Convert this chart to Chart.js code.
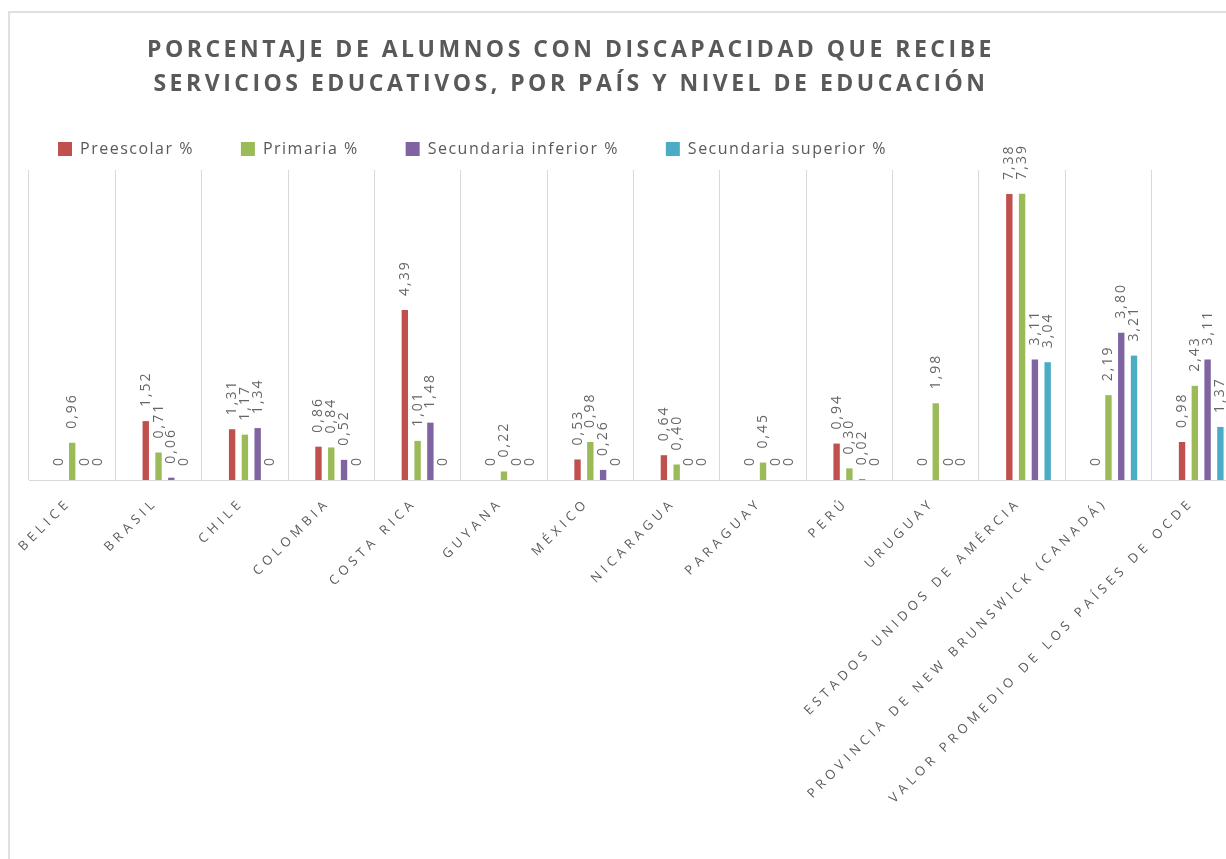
<!DOCTYPE html>
<html lang="es">
<head>
<meta charset="utf-8">
<title>Porcentaje de alumnos con discapacidad</title>
<script src="https://cdn.jsdelivr.net/npm/chart.js@4.4.1/dist/chart.umd.min.js"></script>
<style>
  html, body { margin: 0; padding: 0; background: #fff; overflow: hidden; }
  #wrap { position: relative; width: 1226px; height: 859px; overflow: hidden; }
  #frame { position: absolute; left: 8px; top: 11px; width: 1260px; height: 900px; border: 2px solid #e0e0e0; box-sizing: border-box; }
  canvas { position: absolute; left: 0; top: 0; }
</style>
</head>
<body>
<div id="wrap">
  <div id="frame"></div>
  <canvas id="myChart" width="1240" height="859"></canvas>
</div>
<script>
// Datos
const paises = ['BELICE', 'BRASIL', 'CHILE', 'COLOMBIA', 'COSTA RICA', 'GUYANA', 'MÉXICO', 'NICARAGUA',
  'PARAGUAY', 'PERÚ', 'URUGUAY', 'ESTADOS UNIDOS DE AMÉRCIA', 'PROVINCIA DE NEW BRUNSWICK (CANADÁ)',
  'VALOR PROMEDIO DE LOS PAÍSES DE OCDE'];
const preescolar  = [0, 1.52, 1.31, 0.86, 4.39, 0, 0.53, 0.64, 0, 0.94, 0, 7.38, 0, 0.98];
const primaria    = [0.96, 0.71, 1.17, 0.84, 1.01, 0.22, 0.98, 0.40, 0.45, 0.30, 1.98, 7.39, 2.19, 2.43];
const secInferior = [0, 0.06, 1.34, 0.52, 1.48, 0, 0.26, 0, 0, 0.02, 0, 3.11, 3.80, 3.11];
const secSuperior = [0, 0, 0, 0, 0, 0, 0, 0, 0, 0, 0, 3.04, 3.21, 1.37];
const series = ['Preescolar %', 'Primaria %', 'Secundaria inferior %', 'Secundaria superior %'];
const tituloLineas = ['PORCENTAJE DE ALUMNOS CON DISCAPACIDAD QUE RECIBE',
  'SERVICIOS EDUCATIVOS, POR PAÍS Y NIVEL DE EDUCACIÓN'];

Chart.defaults.font.family = '"Open Sans", sans-serif';
Chart.defaults.color = '#595959';

// espaciado de letras: leyenda durante el layout y el dibujo
const espaciado = {
  id: 'espaciado',
  beforeLayout(chart) { chart.ctx.letterSpacing = '1.5px'; },
  beforeDraw(chart) { chart.ctx.letterSpacing = '1.5px'; }
};

// etiquetas de valor giradas sobre cada barra
const etiquetas = {
  id: 'etiquetas',
  afterDatasetsDraw(chart) {
    const ctx = chart.ctx;
    ctx.save();
    ctx.letterSpacing = '2px';
    ctx.font = '14px "Open Sans"';
    ctx.fillStyle = '#666666';
    ctx.textAlign = 'left';
    ctx.textBaseline = 'middle';
    chart.data.datasets.forEach((ds, i) => {
      if (!ds.label) return;
      chart.getDatasetMeta(i).data.forEach((bar, j) => {
        const v = ds.data[j];
        const txt = v === 0 ? '0' : v.toFixed(2).replace('.', ',');
        ctx.save();
        ctx.translate(bar.x, bar.y - 14);
        ctx.rotate(-Math.PI / 2);
        ctx.fillText(txt, 0, 0);
        ctx.restore();
      });
    });
    ctx.restore();
    ctx.letterSpacing = '4.5px'; // para las etiquetas del eje x (z: 1)
  }
};

// titulo
const titulo = {
  id: 'titulo',
  afterDraw(chart) {
    const ctx = chart.ctx;
    ctx.save();
    ctx.letterSpacing = '3.5px';
    ctx.font = 'bold 23px "Open Sans"';
    ctx.fillStyle = '#595959';
    ctx.textAlign = 'center';
    ctx.textBaseline = 'middle';
    tituloLineas.forEach((t, i) => ctx.fillText(t, 571, 50 + i * 34.5));
    ctx.restore();
    ctx.letterSpacing = '0px';
  }
};

const ctx = document.getElementById('myChart').getContext('2d');

const myChart = new Chart(ctx, {
  type: 'bar',
  data: {
    labels: paises,
    datasets: [
      { label: '', data: paises.map(() => null), backgroundColor: 'rgba(0,0,0,0)' },
      { label: series[0], data: preescolar, backgroundColor: '#C0504D' },
      { label: series[1], data: primaria, backgroundColor: '#9BBB59' },
      { label: series[2], data: secInferior, backgroundColor: '#8064A2' },
      { label: series[3], data: secSuperior, backgroundColor: '#4BACC6' }
    ].map(d => Object.assign(d, { xAxisID: 'x', yAxisID: 'y', barPercentage: 0.5, categoryPercentage: 0.74, borderWidth: 0 }))
  },
  options: {
    responsive: false,
    devicePixelRatio: 1,
    animation: false,
    layout: { padding: { top: 94, left: 11, right: 2, bottom: 0 } },
    plugins: {
      tooltip: { enabled: false },
      title: { display: false },
      legend: {
        position: 'top',
        align: 'start',
        labels: {
          boxWidth: 14,
          boxHeight: 14,
          padding: 47,
          color: '#595959',
          font: { size: 16 },
          filter: item => item.text !== ''
        }
      }
    },
    scales: {
      x: {
        grid: { color: '#d9d9d9', drawTicks: false, offset: true },
        border: { color: '#d9d9d9' },
        ticks: {
          autoSkip: false,
          maxRotation: 45,
          minRotation: 45,
          padding: 15,
          labelOffset: -3,
          color: '#595959',
          font: { size: 13 },
          z: 1
        },
        afterFit(scale) { scale.height = 379; }
      },
      xTop: {
        axis: 'x',
        type: 'category',
        position: 'top',
        grid: { display: false },
        border: { display: false },
        ticks: { display: false },
        afterFit(scale) { scale.height = 3; }
      },
      y: {
        min: 0,
        max: 8,
        grid: { display: false },
        border: { display: false },
        ticks: { display: false },
        afterFit(scale) { scale.width = 18; }
      }
    }
  },
  plugins: [espaciado, etiquetas, titulo]
});
</script>
</body>
</html>
